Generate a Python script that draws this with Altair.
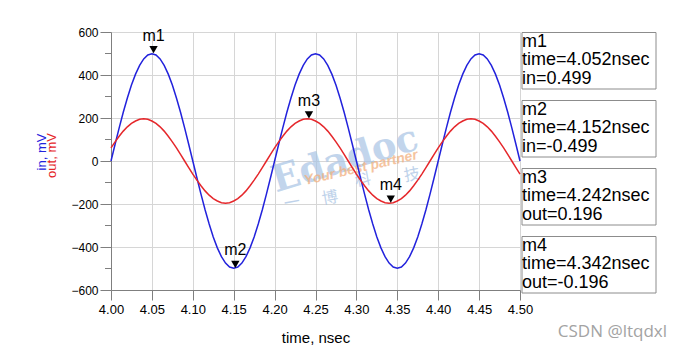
import altair as alt
import pandas as pd

# ---------------- data ----------------
time_ns = [
    4.000, 4.005, 4.010, 4.015, 4.020, 4.025, 4.030, 4.035, 4.040, 4.045,
    4.050, 4.055, 4.060, 4.065, 4.070, 4.075, 4.080, 4.085, 4.090, 4.095,
    4.100, 4.105, 4.110, 4.115, 4.120, 4.125, 4.130, 4.135, 4.140, 4.145,
    4.150, 4.155, 4.160, 4.165, 4.170, 4.175, 4.180, 4.185, 4.190, 4.195,
    4.200, 4.205, 4.210, 4.215, 4.220, 4.225, 4.230, 4.235, 4.240, 4.245,
    4.250, 4.255, 4.260, 4.265, 4.270, 4.275, 4.280, 4.285, 4.290, 4.295,
    4.300, 4.305, 4.310, 4.315, 4.320, 4.325, 4.330, 4.335, 4.340, 4.345,
    4.350, 4.355, 4.360, 4.365, 4.370, 4.375, 4.380, 4.385, 4.390, 4.395,
    4.400, 4.405, 4.410, 4.415, 4.420, 4.425, 4.430, 4.435, 4.440, 4.445,
    4.450, 4.455, 4.460, 4.465, 4.470, 4.475, 4.480, 4.485, 4.490, 4.495,
    4.500,
]
in_mV = [
    0, 78, 154, 227, 293, 353, 404, 445, 475, 493,
    499, 493, 475, 445, 404, 353, 293, 227, 154, 78,
    0, -78, -154, -227, -293, -353, -404, -445, -475, -493,
    -499, -493, -475, -445, -404, -353, -293, -227, -154, -78,
    0, 78, 154, 227, 293, 353, 404, 445, 475, 493,
    499, 493, 475, 445, 404, 353, 293, 227, 154, 78,
    0, -78, -154, -227, -293, -353, -404, -445, -475, -493,
    -499, -493, -475, -445, -404, -353, -293, -227, -154, -78,
    0, 78, 154, 227, 293, 353, 404, 445, 475, 493,
    499, 493, 475, 445, 404, 353, 293, 227, 154, 78,
    0,
]
out_mV = [
    61, 89, 115, 139, 159, 175, 186, 194, 196, 194,
    186, 175, 159, 139, 115, 89, 61, 31, 0, -31,
    -61, -89, -115, -139, -159, -175, -186, -194, -196, -194,
    -186, -175, -159, -139, -115, -89, -61, -31, 0, 31,
    61, 89, 115, 139, 159, 175, 186, 194, 196, 194,
    186, 175, 159, 139, 115, 89, 61, 31, 0, -31,
    -61, -89, -115, -139, -159, -175, -186, -194, -196, -194,
    -186, -175, -159, -139, -115, -89, -61, -31, 0, 31,
    61, 89, 115, 139, 159, 175, 186, 194, 196, 194,
    186, 175, 159, 139, 115, 89, 61, 31, 0, -31,
    -61,
]

x_ticks = [4.00, 4.05, 4.10, 4.15, 4.20, 4.25, 4.30, 4.35, 4.40, 4.45, 4.50]
y_ticks = [-600, -400, -200, 0, 200, 400, 600]
y_minor = [-500, -300, -100, 100, 300, 500]

marker_names = ["m1", "m2", "m3", "m4"]
marker_times = [4.052, 4.152, 4.242, 4.342]
marker_vars = ["in", "in", "out", "out"]
marker_vals = [0.499, -0.499, 0.196, -0.196]

wm_chars = ["一", "博", "科", "技"]

BLUE = "#2222dc"
RED = "#e5272b"
FONT = "Liberation Sans"

# ---------------- tables ----------------
wave_df = pd.DataFrame({
    "time": time_ns * 2,
    "value": in_mV + out_mV,
    "series": ["in"] * len(in_mV) + ["out"] * len(out_mV),
})
marker_df = pd.DataFrame({
    "name": marker_names,
    "time": marker_times,
    "mv": [v * 1000 for v in marker_vals],
    "line2": ["time=%.3fnsec" % t for t in marker_times],
    "line3": ["%s=%g" % (n, v) for n, v in zip(marker_vars, marker_vals)],
})
minor_df = pd.DataFrame({"y": y_minor})
one_df = pd.DataFrame({"k": [0]})

xscale = alt.Scale(domain=[4.0, 4.5], nice=False, zero=False)
yscale = alt.Scale(domain=[-600, 600], nice=False)

x_axis = alt.Axis(
    values=x_ticks, format=".2f", title="time, nsec", grid=True,
    gridColor="#d6d6d6", domainColor="#7f7f7f", tickColor="#7f7f7f",
    tickSize=10, labelPadding=3, labelFontSize=13, labelFont=FONT,
    labelColor="black", labelOverlap=False, labelFlush=False,
    titleFont=FONT, titleFontSize=15, titleFontWeight="normal",
    titleColor="black", titlePadding=14,
)
y_axis = alt.Axis(
    values=y_ticks, title=None, grid=True, gridColor="#d6d6d6",
    domainColor="#7f7f7f", tickColor="#7f7f7f", tickSize=11,
    labelPadding=2, labelFontSize=12, labelFont=FONT, labelColor="black",
    labelOverlap=False, labelFlush=False,
)

lines = alt.Chart(wave_df).mark_line(strokeWidth=1.5).encode(
    x=alt.X("time:Q", scale=xscale, axis=x_axis),
    y=alt.Y("value:Q", scale=yscale, axis=y_axis),
    color=alt.Color("series:N", scale=alt.Scale(domain=["in", "out"], range=[BLUE, RED]), legend=None),
    detail="series:N",
)

minor = alt.Chart(minor_df).mark_rule(color="#7f7f7f").encode(
    y=alt.Y("y:Q", scale=yscale), x=alt.value(-6), x2=alt.value(0)
)

# watermark
wm_layers = [
    alt.Chart(one_df).mark_text(text="Edadoc", font="DejaVu Serif", fontSize=37, fontWeight="bold",
                                color="#a9c4e4", opacity=0.7, angle=343, align="center", baseline="middle"
                                ).encode(x=alt.value(234), y=alt.value(128)),
    alt.Chart(one_df).mark_text(text="Your best partner", font=FONT, fontSize=14, fontWeight="bold",
                                fontStyle="italic", color="#f2b07e", opacity=0.75, angle=347,
                                align="center", baseline="middle").encode(x=alt.value(250), y=alt.value(136)),
]
wm_pos = [(181, 171), (219, 166), (252, 148), (301, 143)]
for ch, (px, py) in zip(wm_chars, wm_pos):
    wm_layers.append(
        alt.Chart(one_df).mark_text(text=ch, font="Noto Sans CJK SC", fontSize=16, color="#a9c4e4",
                                    opacity=0.75, angle=350, align="center", baseline="middle"
                                    ).encode(x=alt.value(px), y=alt.value(py)))

tri = alt.Chart(marker_df).mark_point(shape="triangle-down", filled=True, size=70, color="black",
                                      opacity=1, yOffset=-4).encode(
    x=alt.X("time:Q", scale=xscale), y=alt.Y("mv:Q", scale=yscale)
)
tri_lbl = alt.Chart(marker_df).mark_text(fontSize=16, font=FONT, color="black", dy=-18,
                                         baseline="middle").encode(
    x=alt.X("time:Q", scale=xscale), y=alt.Y("mv:Q", scale=yscale), text="name:N"
)

box_layers = []
for i, name in enumerate(marker_names):
    top = 0.5 + i * 68
    sub = alt.Chart(marker_df).transform_filter(alt.datum.name == name)
    box_layers.append(sub.mark_rect(fill="white", stroke="#8c8c8c", strokeWidth=1).encode(
        x=alt.value(411), x2=alt.value(545), y=alt.value(top), y2=alt.value(top + 56.5)))
    for j, fld in enumerate(["name", "line2", "line3"]):
        box_layers.append(sub.mark_text(fontSize=18, font=FONT, color="black", align="left",
                                        baseline="middle").encode(
            x=alt.value(411), y=alt.value(top + 9.5 + j * 18.3), text=f"{fld}:N"))

ytitles = [
    alt.Chart(one_df).mark_text(text="in, mV", color=BLUE, fontSize=13, font=FONT, angle=270,
                                align="center", baseline="middle").encode(x=alt.value(-69), y=alt.value(120)),
    alt.Chart(one_df).mark_text(text="out, mV", color=RED, fontSize=13, font=FONT, angle=270,
                                align="center", baseline="middle").encode(x=alt.value(-59), y=alt.value(123.5)),
]
csdn = alt.Chart(one_df).mark_text(text="CSDN @ltqdxl", color="#a3a3a3", fontSize=17, font="Open Sans",
                                   align="right", baseline="middle").encode(x=alt.value(556), y=alt.value(300))

chart = alt.layer(
    *wm_layers, lines, minor, tri, tri_lbl, *box_layers, *ytitles, csdn
).properties(
    width=409, height=258, autosize="none",
    padding={"left": 111, "top": 32, "right": 161, "bottom": 62},
    background="white",
).configure_view(strokeWidth=0)

chart.save("out.html", embed_options={"renderer": "svg", "actions": False})
